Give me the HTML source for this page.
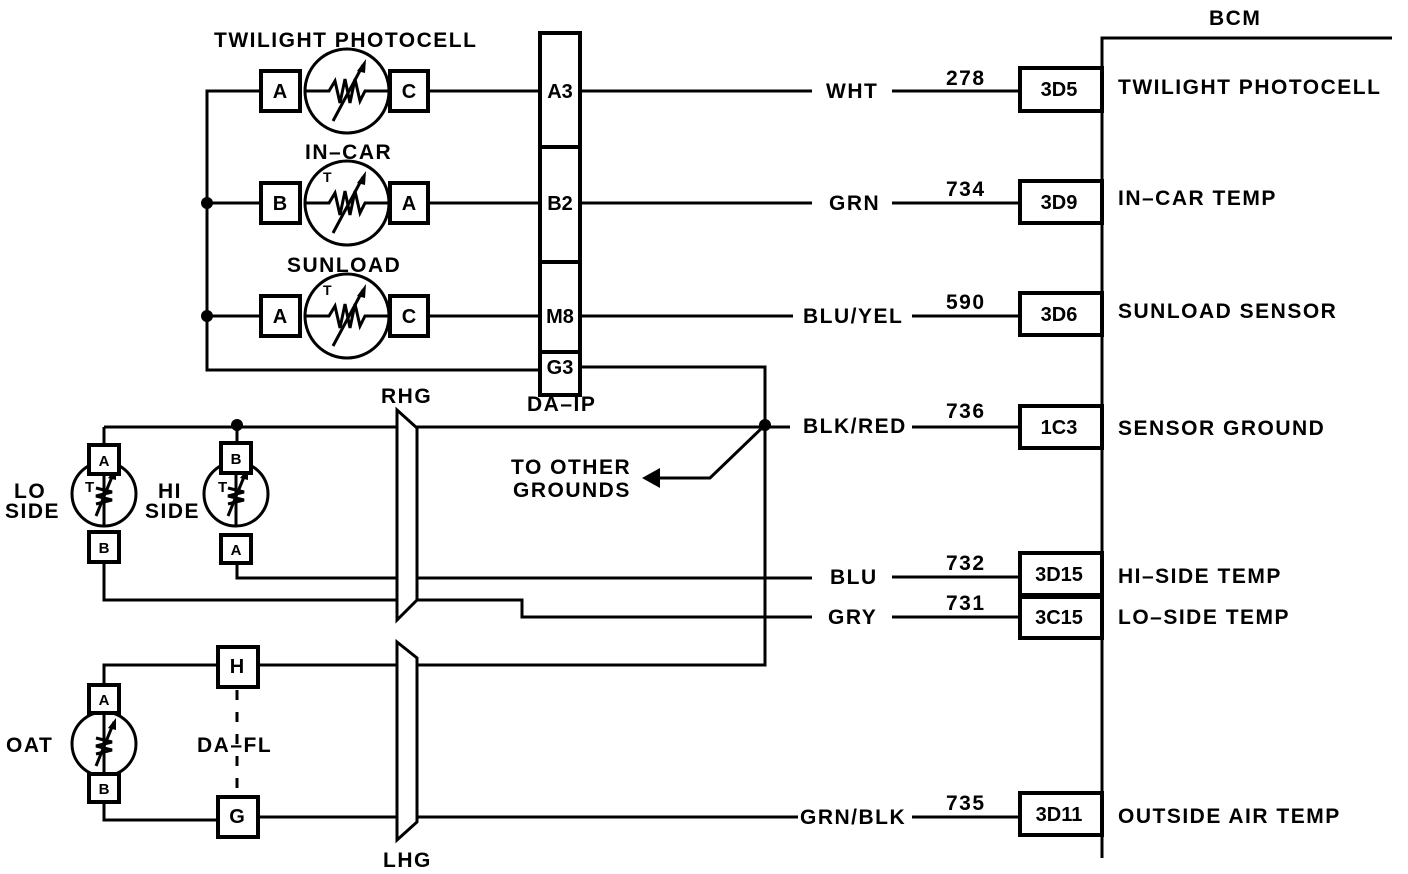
<!DOCTYPE html>
<html><head><meta charset="utf-8"><style>
html,body{margin:0;padding:0;background:#fff}
svg{display:block}
text{font-family:"Liberation Sans",sans-serif;font-weight:bold;fill:#000}
</style></head><body>
<svg width="1408" height="874" viewBox="0 0 1408 874" xmlns="http://www.w3.org/2000/svg">
<defs>
<g id="hres">
  <circle cx="0" cy="0" r="42" fill="#fff" stroke="#000" stroke-width="3"/>
  <polyline points="-42,0 -18,0 -12,-10 -7,12 -2,-12 3,12 8,-12 13,10 18,0 42,0" fill="none" stroke="#000" stroke-width="3"/>
  <line x1="-14" y1="30" x2="16" y2="-26" stroke="#000" stroke-width="3"/>
  <polygon points="19,-32 10,-20 18,-18" fill="#000"/>
</g>
<g id="vres">
  <circle cx="0" cy="0" r="32" fill="#fff" stroke="#000" stroke-width="3"/>
  <line x1="0" y1="-32" x2="0" y2="32" stroke="#000" stroke-width="3"/>
  <polyline points="-8,-6 8,-2 -8,2 8,6 -8,10" fill="none" stroke="#000" stroke-width="3"/>
  <line x1="-8" y1="22" x2="10" y2="-22" stroke="#000" stroke-width="3"/>
  <polygon points="12,-26 4,-16 12,-14" fill="#000"/>
</g>
</defs>
<g stroke="#000" stroke-width="3" fill="none">
<polyline points="1102,858 1102,38 1392,38"/>
<polyline points="261,91 207,91 207,370 540,370"/>
<line x1="207" y1="203" x2="261" y2="203"/>
<line x1="207" y1="316" x2="261" y2="316"/>
<line x1="428" y1="91" x2="540" y2="91"/>
<line x1="428" y1="203" x2="540" y2="203"/>
<line x1="428" y1="316" x2="540" y2="316"/>
<line x1="580" y1="91" x2="812" y2="91"/>
<line x1="580" y1="203" x2="812" y2="203"/>
<line x1="580" y1="316" x2="793" y2="316"/>
<line x1="892" y1="91" x2="1020" y2="91"/>
<line x1="892" y1="203" x2="1020" y2="203"/>
<line x1="912" y1="316" x2="1020" y2="316"/>
<line x1="912" y1="427" x2="1020" y2="427"/>
<line x1="892" y1="577" x2="1020" y2="577"/>
<line x1="892" y1="617" x2="1020" y2="617"/>
<line x1="912" y1="817" x2="1020" y2="817"/>
<polyline points="580,367 765,367 765,665 258,665"/>
<line x1="104" y1="445" x2="104" y2="427"/>
<polyline points="104,427 790,427"/>
<line x1="237" y1="427" x2="237" y2="443"/>
<polyline points="765,425 710,478 655,478"/>
<polyline points="237,562 237,578 812,578"/>
<polyline points="104,562 104,600 522,600 522,617 812,617"/>
<polyline points="104,685 104,665 218,665"/>
<polyline points="104,802 104,820 218,820"/>
<line x1="258" y1="817" x2="798" y2="817"/>
<line x1="237" y1="690" x2="237" y2="795" stroke-dasharray="10,12"/>
</g>
<polygon points="642,478 660,468 660,488" fill="#000"/>
<g fill="#000">
<circle cx="207" cy="203" r="6"/><circle cx="207" cy="316" r="6"/>
<circle cx="237" cy="425" r="6"/><circle cx="765" cy="425" r="6"/>
</g>
<polygon points="397,410 417,428 417,600 397,620" fill="#fff" stroke="#000" stroke-width="3"/>
<polygon points="397,642 417,658 417,822 397,840" fill="#fff" stroke="#000" stroke-width="3"/>
<use href="#hres" x="347" y="91"/>
<use href="#hres" x="347" y="203"/>
<use href="#hres" x="347" y="316"/>
<use href="#vres" x="104" y="494"/>
<use href="#vres" x="236" y="494"/>
<use href="#vres" x="104" y="744"/>
<g font-size="15"><text x="85" y="492">T</text><text x="218" y="492">T</text></g>
<g font-size="14"><text x="323" y="182">T</text><text x="323" y="295">T</text></g>
<g fill="#fff" stroke="#000" stroke-width="4">
<rect x="261" y="71" width="39" height="40"/><rect x="390" y="71" width="38" height="40"/>
<rect x="261" y="183" width="39" height="40"/><rect x="390" y="183" width="38" height="40"/>
<rect x="261" y="296" width="39" height="40"/><rect x="390" y="296" width="38" height="40"/>
<rect x="89" y="445" width="30" height="29"/><rect x="89" y="532" width="30" height="30"/>
<rect x="221" y="443" width="30" height="30"/><rect x="221" y="535" width="30" height="28"/>
<rect x="89" y="685" width="30" height="28"/><rect x="89" y="774" width="30" height="28"/>
<rect x="218" y="647" width="40" height="40"/><rect x="218" y="797" width="40" height="40"/>
<rect x="540" y="33" width="40" height="362"/>
<rect x="1020" y="68" width="82" height="43"/><rect x="1020" y="181" width="82" height="42"/>
<rect x="1020" y="293" width="82" height="42"/><rect x="1020" y="406" width="82" height="42"/>
<rect x="1020" y="553" width="82" height="42"/><rect x="1020" y="597" width="82" height="41"/>
<rect x="1020" y="793" width="82" height="42"/>
</g>
<g stroke="#000" stroke-width="4"><line x1="540" y1="147" x2="580" y2="147"/><line x1="540" y1="262" x2="580" y2="262"/><line x1="540" y1="352" x2="580" y2="352"/></g>
<g font-size="20" text-anchor="middle">
<text x="280" y="98">A</text><text x="409" y="98">C</text>
<text x="280" y="210">B</text><text x="409" y="210">A</text>
<text x="280" y="323">A</text><text x="409" y="323">C</text>
<text x="237" y="673">H</text><text x="237" y="823">G</text>
<text x="560" y="98">A3</text><text x="560" y="210">B2</text><text x="560" y="323">M8</text><text x="560" y="374">G3</text>
<text x="1059" y="96">3D5</text><text x="1059" y="209">3D9</text><text x="1059" y="321">3D6</text><text x="1059" y="434">1C3</text>
<text x="1059" y="581">3D15</text><text x="1059" y="624">3C15</text><text x="1059" y="821">3D11</text>
</g>
<g font-size="15" text-anchor="middle">
<text x="104" y="466">A</text><text x="104" y="553">B</text>
<text x="236" y="464">B</text><text x="236" y="555">A</text>
<text x="104" y="705">A</text><text x="104" y="794">B</text>
</g>
<g font-size="21" letter-spacing="1.5">
<text x="214" y="47">TWILIGHT PHOTOCELL</text>
<text x="305" y="159">IN–CAR</text>
<text x="287" y="272">SUNLOAD</text>
<text x="381" y="403">RHG</text>
<text x="527" y="411">DA–IP</text>
<text x="383" y="867">LHG</text>
<text x="1209" y="25">BCM</text>
<text x="826" y="98">WHT</text><text x="829" y="210">GRN</text><text x="803" y="323">BLU/YEL</text>
<text x="803" y="433">BLK/RED</text><text x="830" y="584">BLU</text><text x="828" y="624">GRY</text><text x="800" y="824">GRN/BLK</text>
<text x="946" y="85">278</text><text x="946" y="196">734</text><text x="946" y="309">590</text><text x="946" y="418">736</text>
<text x="946" y="570">732</text><text x="946" y="610">731</text><text x="946" y="810">735</text>
<text x="1118" y="94">TWILIGHT PHOTOCELL</text><text x="1118" y="205">IN–CAR TEMP</text>
<text x="1118" y="318">SUNLOAD SENSOR</text><text x="1118" y="435">SENSOR GROUND</text>
<text x="1118" y="583">HI–SIDE TEMP</text><text x="1118" y="624">LO–SIDE TEMP</text>
<text x="1118" y="823">OUTSIDE AIR TEMP</text>
<text x="511" y="474">TO OTHER</text><text x="513" y="497">GROUNDS</text>
<text x="14" y="498">LO</text><text x="5" y="518">SIDE</text>
<text x="158" y="498">HI</text><text x="145" y="518">SIDE</text>
<text x="6" y="752">OAT</text>
<text x="197" y="752">DA–FL</text>
</g>
</svg>
</body></html>
